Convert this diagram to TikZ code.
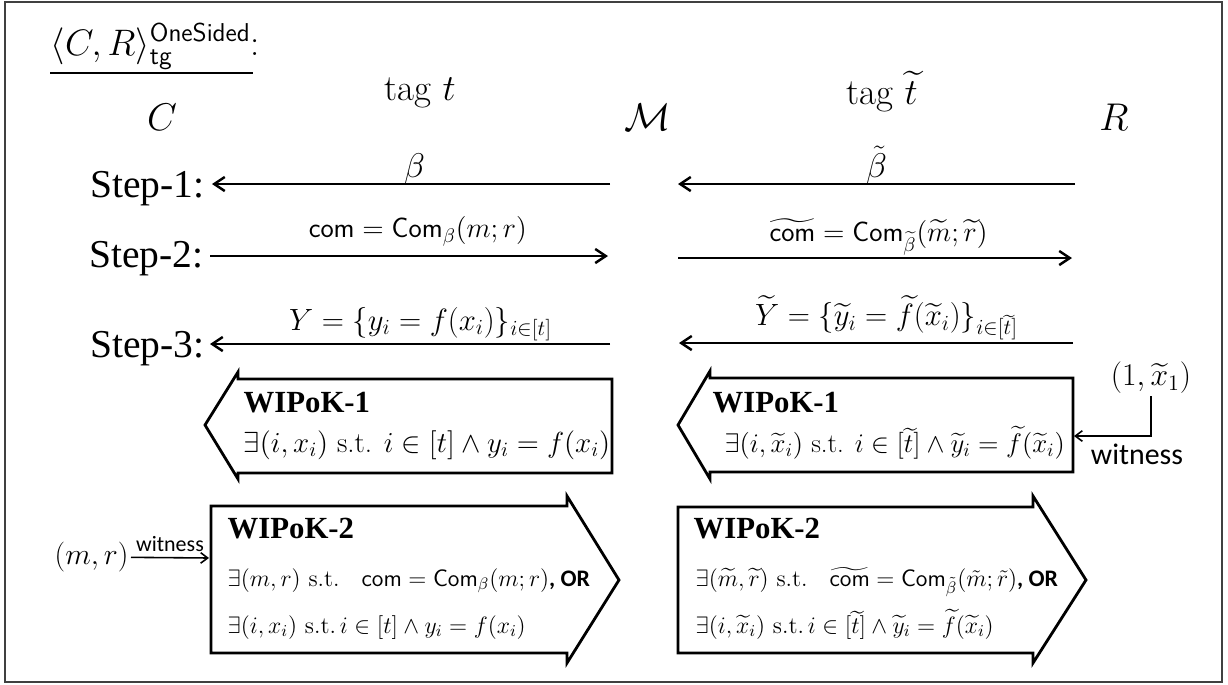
\RequirePackage{fix-cm}
\documentclass[tikz,border=0pt]{standalone}
\usepackage{amsmath}
\usepackage{fontspec}
\newfontfamily\stepfont{Liberation Serif}
\newfontfamily\calibri{Carlito}
\usetikzlibrary{arrows.meta}

\begin{document}
\begin{tikzpicture}[x=0.02cm, y=-0.02cm, thick,
    >={Straight Barb[length=6pt,width=8pt]},
    party/.style={anchor=base, inner sep=0pt, font=\fontsize{22}{26}\selectfont},
    steplabel/.style={anchor=base east, inner sep=0pt, font=\stepfont\fontsize{22.5}{27}\selectfont},
    msg/.style={above, inner sep=0pt, font=\fontsize{17.5}{20}\selectfont},
    msg arrow/.style={->, line width=1.4pt},
    wipok/.style={draw, line width=1.6pt, line join=miter},
    wipok title/.style={anchor=base west, inner sep=0pt, font=\stepfont\bfseries\fontsize{17.5}{21}\selectfont},
    wipok text/.style={anchor=base west, inner sep=0pt, font=\fontsize{16.5}{20}\selectfont},
    small text/.style={anchor=base west, inner sep=0pt, font=\fontsize{13.5}{16}\selectfont},
    witness/.style={inner sep=0pt, font=\calibri\fontsize{12.5}{15}\selectfont},
    witness arrow/.style={->, line width=0.9pt, >={Straight Barb[length=4pt,width=6pt]}}]

    \useasboundingbox (0,0) rectangle (1228,684);
    \draw[black!75, line width=0.8pt] (5,2) rectangle (1222,682);

    % title and parties
    \node[anchor=base west, inner sep=0pt, font=\fontsize{21}{25}\selectfont] at (50,55) (title) {$\langle C,R\rangle^{\mathsf{OneSided}}_{\mathsf{tg}}$:};
    \draw[line width=1.3pt] (50,73) -- (253,73);

    \node[party] at (162,130) (c) {$C$};
    \node[party] at (648,130) (m) {$\mathcal{M}$};
    \node[party] at (1114,130) (r) {$R$};
    \node[party, font=\fontsize{21}{25}\selectfont] at (420,100) (tagl) {tag $t$};
    \node[party, font=\fontsize{21}{25}\selectfont] at (882,104) (tagr) {tag $\widetilde{t}$};

    \node[steplabel] at (205,197) (s1) {Step-1:};
    \node[steplabel] at (204,267) (s2) {Step-2:};
    \node[steplabel] at (205,357) (s3) {Step-3:};

    % message end points
    \coordinate (c1) at (212,184);  \coordinate (ml1) at (610,184);
    \coordinate (mr1) at (678,184); \coordinate (r1) at (1075,184);
    \coordinate (c2) at (210,256);  \coordinate (ml2) at (608,256);
    \coordinate (mr2) at (678,258); \coordinate (r2) at (1072,258);
    \coordinate (c3) at (210,344);  \coordinate (ml3) at (610,344);
    \coordinate (mr3) at (679,343); \coordinate (r3) at (1073,343);

    \path[msg arrow] (ml1) edge node[msg, font=\fontsize{19.5}{22}\selectfont, xshift=2pt, yshift=-1pt] {$\beta$} (c1);
    \path[msg arrow] (r1) edge node[msg, font=\fontsize{19.5}{22}\selectfont, yshift=-1pt] {$\tilde{\beta}$} (mr1);
    \path[msg arrow] (c2) edge node[msg, font=\fontsize{16}{18}\selectfont, xshift=5pt, yshift=5pt] {$\mathsf{com} = \mathsf{Com}_{\beta}(m;r)$} (ml2);
    \path[msg arrow] (mr2) edge node[msg, font=\fontsize{16}{18}\selectfont, xshift=2pt, yshift=1pt] {$\widetilde{\mathsf{com}} = \mathsf{Com}_{\widetilde{\beta}}(\widetilde{m};\widetilde{r})$} (r2);
    \path[msg arrow] (ml3) edge node[msg, xshift=6pt, yshift=1pt] {$Y = \{y_i = f(x_i)\}_{i\in[t]}$} (c3);
    \path[msg arrow] (r3) edge node[msg, xshift=6pt, yshift=1pt] {$\widetilde{Y} = \{\widetilde{y}_i = \widetilde{f}(\widetilde{x}_i)\}_{i\in[\widetilde{t}]}$} (mr3);

    % WIPoK-1 (towards C and towards M)
    \draw[wipok] (612,379) -- (238,379) -- (238,372) -- (205,425) -- (238,479) -- (238,473) -- (612,473) -- cycle;
    \draw[wipok] (1073,378) -- (710,378) -- (710,371) -- (678,425) -- (710,479) -- (710,472) -- (1073,472) -- cycle;
    \node[wipok title] at (243,412) (w1l) {WIPoK-1};
    \node[wipok text] at (243,452) (f1l) {$\exists(i,x_i)$ s.t. $i\in[t]\wedge y_i=f(x_i)$};
    \node[wipok title] at (712,412) (w1r) {WIPoK-1};
    \node[wipok text, font=\fontsize{15.3}{18}\selectfont] at (724,452) (f1r) {$\exists(i,\widetilde{x}_i)$ s.t. $i\in[\widetilde{t}]\wedge\widetilde{y}_i=\widetilde{f}(\widetilde{x}_i)$};

    % WIPoK-2 (towards M and towards R)
    \draw[wipok] (211,506) -- (567,506) -- (567,496) -- (619,580) -- (567,663) -- (567,653) -- (211,653) -- cycle;
    \draw[wipok] (678,507) -- (1033,507) -- (1033,496) -- (1086,580) -- (1033,663) -- (1033,653) -- (678,653) -- cycle;
    \node[wipok title] at (227,538) (w2l) {WIPoK-2};
    \node[small text] at (227,586) (g1l) {$\exists(m,r)$ s.t.\ \, $\mathsf{com} = \mathsf{Com}_{\beta}(m;r)${\calibri\bfseries, OR}};
    \node[small text] at (227,633) (g2l) {$\exists(i,x_i)$ s.t.\,$i\in[t]\wedge y_i=f(x_i)$};
    \node[wipok title] at (693,538) (w2r) {WIPoK-2};
    \node[small text] at (695,586) (g1r) {$\exists(\widetilde{m},\widetilde{r})$ s.t.\ \, $\widetilde{\mathsf{com}} = \mathsf{Com}_{\tilde{\beta}}(\tilde{m};\tilde{r})${\calibri\bfseries, OR}};
    \node[small text] at (695,633) (g2r) {$\exists(i,\widetilde{x}_i)$ s.t.\,$i\in[\widetilde{t}]\wedge\widetilde{y}_i=\widetilde{f}(\widetilde{x}_i)$};

    % witnesses
    \coordinate (in2) at (209,558);
    \coordinate (in1) at (1074,436);
    \node[anchor=east, inner sep=1pt, font=\fontsize{17}{20}\selectfont] at (131,557) (mr) {$(m,r)$};
    \path[witness arrow] (mr) edge node[witness, above=3pt] {witness} (in2);
    \node[inner sep=1pt, font=\fontsize{18}{21}\selectfont] at (1151,378) (one) {$(1,\widetilde{x}_1)$};
    \draw[witness arrow] (one) |- (in1);
    \node[witness, font=\calibri\fontsize{17}{20}\selectfont] at (1137,454) (wit) {witness};

\end{tikzpicture}
\end{document}
